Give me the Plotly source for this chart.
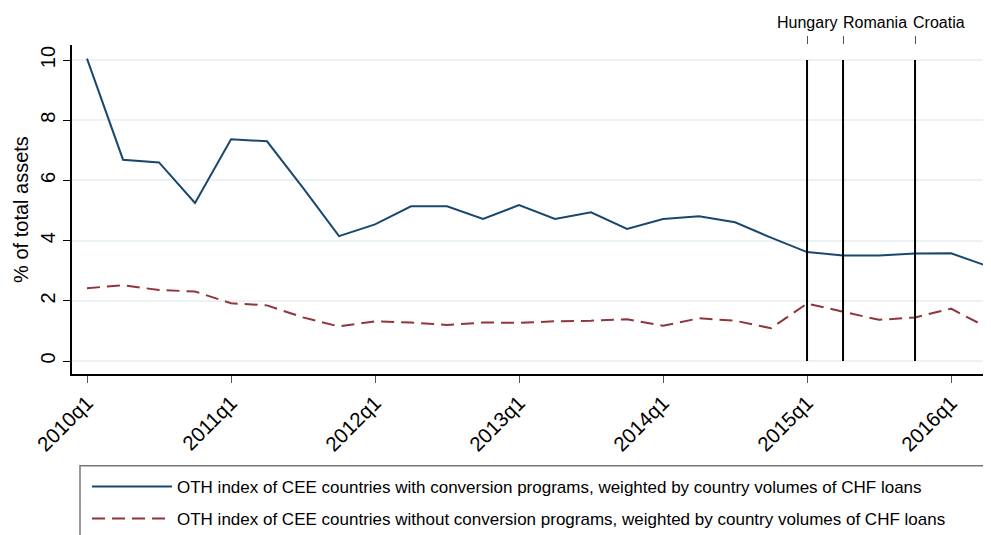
import plotly.graph_objects as go

quarters = ["2010q1","2010q2","2010q3","2010q4","2011q1","2011q2","2011q3","2011q4",
            "2012q1","2012q2","2012q3","2012q4","2013q1","2013q2","2013q3","2013q4",
            "2014q1","2014q2","2014q3","2014q4","2015q1","2015q2","2015q3","2015q4",
            "2016q1","2016q2"]
with_conv = [10.05, 6.69, 6.60, 5.25, 7.37, 7.30, 5.75, 4.15,
             4.54, 5.14, 5.14, 4.72, 5.18, 4.72, 4.94, 4.39,
             4.72, 4.81, 4.61, 4.10, 3.62, 3.51, 3.51, 3.57,
             3.58, 3.16]
without_conv = [2.42, 2.52, 2.36, 2.31, 1.92, 1.85, 1.45, 1.15,
                1.32, 1.28, 1.20, 1.28, 1.27, 1.32, 1.34, 1.39,
                1.17, 1.42, 1.34, 1.09, 1.91, 1.63, 1.37, 1.45,
                1.74, 1.12]
event_quarters = ["2015q1", "2015q2", "2015q4"]
event_labels = ["Hungary", "Romania", "Croatia"]
xtick_labels = ["2010q1","2011q1","2012q1","2013q1","2014q1","2015q1","2016q1"]
ytick_vals = [0, 2, 4, 6, 8, 10]

name1 = "OTH index of CEE countries with conversion programs, weighted by country volumes of CHF loans"
name2 = "OTH index of CEE countries without conversion programs, weighted by country volumes of CHF loans"

xi = list(range(len(quarters)))
ev_x = [quarters.index(q) for q in event_quarters]
xt = [quarters.index(q) for q in xtick_labels]

FONT = "Liberation Sans, Arial, sans-serif"
NARROW = "Liberation Sans Narrow, Arial Narrow, Liberation Sans, sans-serif"

OFF = 8  # page body margin
W, H = 991, 535
PL, PR, PT, PB = 72 - OFF, 991 - OFF, 45 - OFF, 375 - OFF

def py(p):  # screen pixel y -> paper y
    return (PB - (p - OFF)) / (PB - PT)

def px(p):  # screen pixel x -> paper x
    return ((p - OFF) - PL) / (PR - PL)

fig = go.Figure()
fig.add_trace(go.Scatter(x=xi, y=with_conv, mode="lines", name=name1, legend="legend",
                         line=dict(color="#1a476f", width=2)))
fig.add_trace(go.Scatter(x=xi, y=without_conv, mode="lines", name=name2, legend="legend2",
                         line=dict(color="#90353b", width=2, dash="13px,7px")))
# invisible trace on top axis
fig.add_trace(go.Scatter(x=ev_x, y=[None]*len(ev_x), xaxis="x2", showlegend=False,
                         hoverinfo="skip"))

for x in ev_x:
    fig.add_shape(type="line", xref="x", yref="y", x0=x, x1=x, y0=0, y1=10,
                  line=dict(color="black", width=2))

label_anchor = ["center", "left", "left"]
label_shift = [0, -2, -4]
for x, t, a, s in zip(ev_x, event_labels, label_anchor, label_shift):
    fig.add_annotation(x=x, xref="x", y=py(22), yref="paper", yanchor="middle",
                       text=t, showarrow=False, xanchor=a, xshift=s,
                       font=dict(family=FONT, size=16, color="black"))

xr = [-0.417, 25.11]
leg_common = dict(xanchor="left", yanchor="middle", bgcolor="rgba(0,0,0,0)",
                  borderwidth=0, itemwidth=80,
                  font=dict(family=NARROW, size=17, color="black"))
fig.update_layout(
    width=W, height=H,
    margin=dict(l=PL, r=W - PR, t=PT, b=H - PB),
    plot_bgcolor="white", paper_bgcolor="white",
    font=dict(family=FONT, color="black"),
    showlegend=True,
    xaxis=dict(range=xr, tickvals=xt, ticktext=xtick_labels, tickangle=-45,
               tickfont=dict(size=20.5), ticks="outside", ticklen=7, tickcolor="#555",
               showline=True, linecolor="black", linewidth=1.5, showgrid=False,
               zeroline=False, automargin=False),
    xaxis2=dict(range=xr, overlaying="x", side="top", tickvals=ev_x, ticktext=["", "", ""],
                ticks="outside", ticklen=8, tickcolor="#555",
                showline=False, showgrid=False, zeroline=False, automargin=False),
    yaxis=dict(range=[-0.43, 10.5], tickvals=ytick_vals, tickangle=-90,
               tickfont=dict(size=20), ticks="outside", ticklen=7, tickcolor="black",
               showline=True, linecolor="black", linewidth=1.5,
               showgrid=True, gridcolor="#eaf2f3", gridwidth=2, zeroline=False,
               automargin=False,
               title=dict(text="% of total assets", font=dict(size=20), standoff=3)),
    legend=dict(x=px(87), y=py(487), **leg_common),
    legend2=dict(x=px(87), y=py(519), **leg_common),
)
fig.add_shape(type="rect", xref="paper", yref="paper", x0=px(80), x1=px(1040),
              y0=py(467), y1=py(560),
              line=dict(color="#777", width=1.5), fillcolor="rgba(0,0,0,0)", layer="below")

fig.write_html("out.html")
